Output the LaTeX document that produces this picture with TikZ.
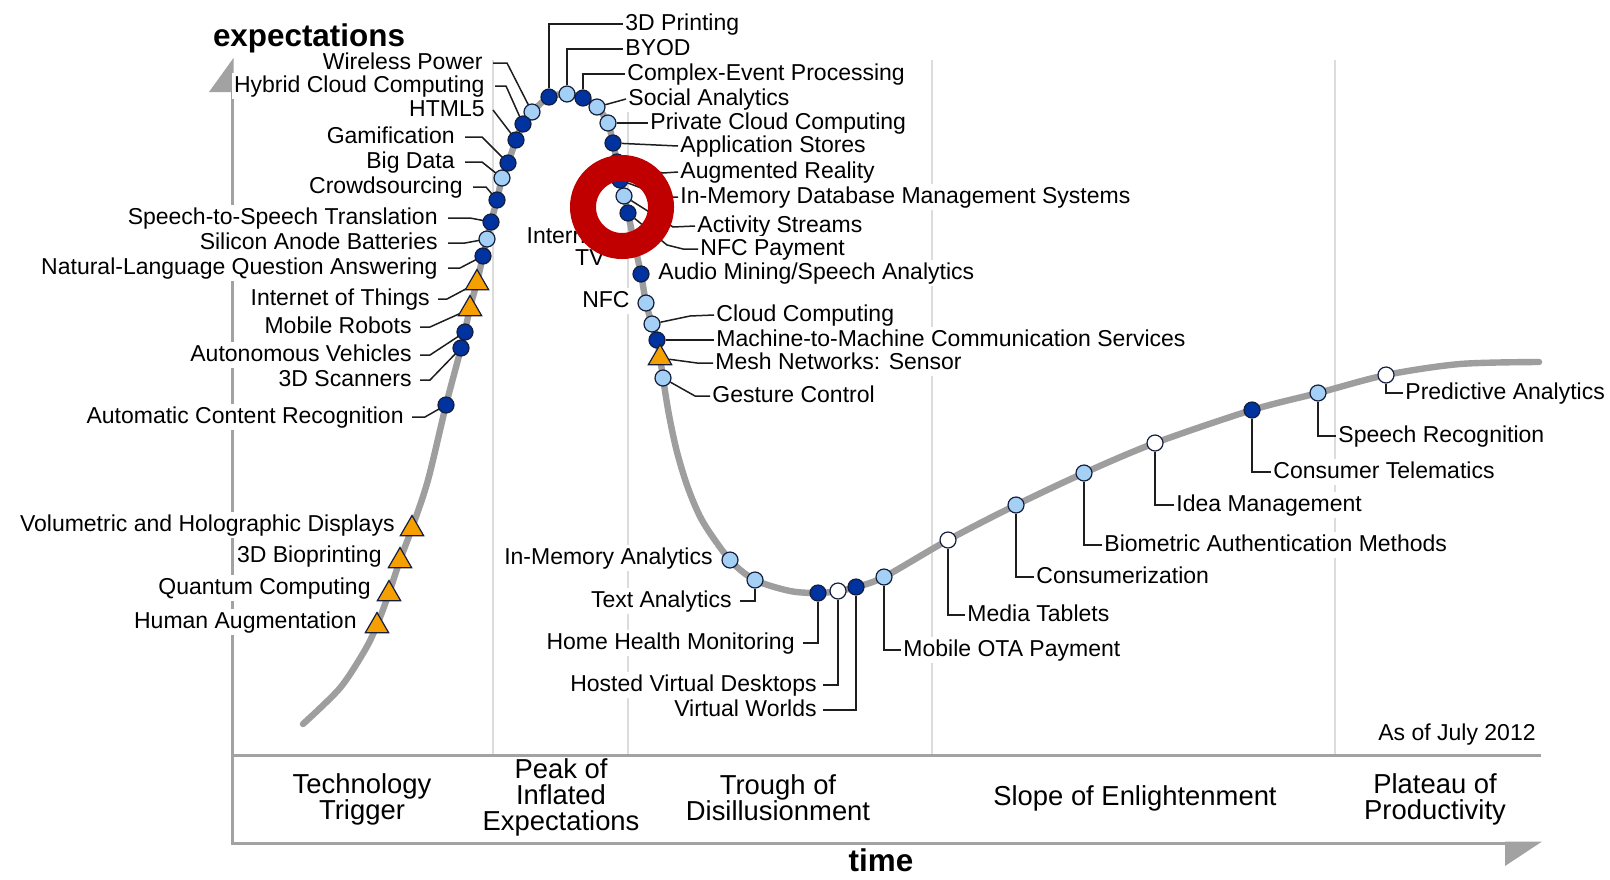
\documentclass[tikz,border=0pt]{standalone}
\usepackage{fontspec}
\setmainfont{Liberation Sans}
\usetikzlibrary{shapes.geometric}
\definecolor{axisgray}{RGB}{162,162,162}
\definecolor{divgray}{RGB}{220,220,220}
\definecolor{curvegray}{RGB}{158,158,158}
\definecolor{darkdot}{RGB}{0,50,160}
\definecolor{lightdot}{RGB}{165,208,245}
\definecolor{dotline}{RGB}{20,30,60}
\definecolor{orangetri}{RGB}{245,160,0}
\definecolor{ringred}{RGB}{192,0,0}
\definecolor{leadline}{RGB}{30,30,30}
\begin{document}
\begin{tikzpicture}[x=0.5pt,y=-0.5pt,
  lbl/.style={inner sep=1pt, fill=white, font=\fontsize{11.5}{13}\selectfont, text height=8.3pt, text depth=2.3pt},
  lblr/.style={lbl, anchor=east},
  lbll/.style={lbl, anchor=west},
  phase/.style={align=center, font=\fontsize{13.7}{13}\selectfont, inner sep=0pt},
  axtitle/.style={font=\bfseries\fontsize{15.7}{16}\selectfont, inner sep=0pt},
  dotbase/.style={circle, draw=dotline, line width=0.6pt, minimum size=8pt, inner sep=0pt},
  ddot/.style={dotbase, fill=darkdot},
  ldot/.style={dotbase, fill=lightdot},
  wdot/.style={dotbase, fill=white},
  tri/.style={regular polygon, regular polygon sides=3, draw=dotline, line width=0.6pt, fill=orangetri, minimum size=13.5pt, inner sep=0pt},
  lead/.style={draw=leadline, line width=0.75pt},
  divider/.style={draw=divgray, line width=1pt},
  axisline/.style={draw=axisgray, line width=1.5pt},
  hype/.style={draw=curvegray, line width=3.2pt, line cap=round}
]
\useasboundingbox (0,0) rectangle (1610,879);
\fill[white] (0,0) rectangle (1610,879);

% phase dividers
\foreach \xx in {493,628,932,1335} \draw[divider] (\xx,60) -- (\xx,755);

% axes
\draw[axisline] (232,92) -- (232,843) -- (1506,843);
\draw[axisline] (232,755) -- (1541,755);
\fill[axisgray] (209,92) -- (233.5,58) -- (233.5,92) -- cycle;
\fill[axisgray] (1505,841.5) -- (1542,841.5) -- (1505,866) -- cycle;

% hype curve
\draw[hype] plot[smooth, tension=0.5] coordinates {
 (303,724) (340,688) (365,650) (377,625) (389,593) (400,560) (412,528) (428,480)
 (446,405) (461,348) (470,308) (477,282) (483,256) (491,222) (497,200) (502,178)
 (508,163) (516,140) (523,124) (532,112) (549,97) (567,94) (583,98) (597,107)
 (608,123) (613,143) (617,162) (620,180) (624,196) (628,213) (634,242) (641,274)
 (646,303) (652,324) (657,340) (660,357) (663,378) (669,415) (677,452) (688,488)
 (703,522) (730,560) (755,580) (790,591) (818,593) (838,591) (856,587) (884,577)
 (948,540) (1016,505) (1084,473) (1155,443) (1252,410) (1318,393) (1386,375)
 (1460,364) (1539,362)};

% axis titles, phases
\node[axtitle] (ytitle) at (309,38) {expectations};
\node[axtitle] (xtitle) at (881,860) {time};
\node[phase] (p1) at (362,799) {Technology\\Trigger};
\node[phase] (p2) at (561,797) {Peak of\\Inflated\\Expectations};
\node[phase] (p3) at (778,798) {Trough of\\Disillusionment};
\node[phase] (p4) at (1135,798) {Slope of Enlightenment};
\node[phase] (p5) at (1435,799) {Plateau of\\Productivity};
\node[inner sep=1pt, anchor=east, font=\fontsize{11.5}{13}\selectfont] (asof) at (1538,735) {As of July 2012};

% left labels
\node[lblr] (l_wp) at (485,63) {Wireless Power};
\node[lblr] (l_hcc) at (487,86) {Hybrid Cloud Computing};
\node[lblr] (l_html) at (487,110) {HTML5};
\node[lblr] (l_gam) at (457,137) {Gamification};
\node[lblr] (l_bd) at (457,162) {Big Data};
\node[lblr] (l_crowd) at (465,187) {Crowdsourcing};
\node[lblr] (l_sts) at (440,218) {Speech-to-Speech Translation};
\node[lblr] (l_sab) at (440,243) {Silicon Anode Batteries};
\node[lblr] (l_nlqa) at (440,268) {Natural-Language Question Answering};
\node[lblr] (l_iot) at (432,299) {Internet of Things};
\node[lblr] (l_mr) at (414,327) {Mobile Robots};
\node[lblr] (l_av) at (414,355) {Autonomous Vehicles};
\node[lblr] (l_3ds) at (414,380) {3D Scanners};
\node[lblr] (l_acr) at (406,417) {Automatic Content Recognition};
\node[lblr] (l_vhd) at (397,525) {Volumetric and Holographic Displays};
\node[lblr] (l_3db) at (384,556) {3D Bioprinting};
\node[lblr] (l_qc) at (373,588) {Quantum Computing};
\node[lblr] (l_ha) at (359,622) {Human Augmentation};

% right / other labels
\node[lbll] (r_3dp) at (623,24) {3D Printing};
\node[lbll] (r_byod) at (623,49) {BYOD};
\node[lbll] (r_cep) at (625,74) {Complex-Event Processing};
\node[lbll] (r_sa) at (626,99) {Social Analytics};
\node[lbll] (r_pcc) at (648,123) {Private Cloud Computing};
\node[lbll] (r_as) at (678,146) {Application Stores};
\node[lbll] (r_ar) at (678,172) {Augmented Reality};
\node[lbll] (r_imdb) at (678,197) {In-Memory Database Management Systems};
\node[lbll] (r_acts) at (695,226) {Activity Streams};
\node[lbll] (r_nfcp) at (698,249) {NFC Payment};
\node[inner sep=1pt, fill=white, align=right, anchor=east, font=\fontsize{11.5}{11}\selectfont] (l_itv) at (607,247) {Internet\\TV};
\node[lbll] (r_am) at (656,273) {Audio Mining/Speech Analytics};
\node[lblr] (l_nfc) at (632,301) {NFC};
\node[lbll] (r_cc) at (714,315) {Cloud Computing};
\node[lbll] (r_m2m) at (714,340) {Machine-to-Machine Communication Services};
\node[lbll] (r_mesh) at (713,363) {Mesh Networks: Sensor};
\node[lbll] (r_gc) at (710,396) {Gesture Control};
\node[lblr] (l_ima) at (715,558) {In-Memory Analytics};
\node[lblr] (l_ta) at (734,601) {Text Analytics};
\node[lblr] (l_hhm) at (797,643) {Home Health Monitoring};
\node[lblr] (l_hvd) at (819,685) {Hosted Virtual Desktops};
\node[lblr] (l_vw) at (819,710) {Virtual Worlds};
\node[lbll] (r_ota) at (901,650) {Mobile OTA Payment};
\node[lbll] (r_mt) at (965,615) {Media Tablets};
\node[lbll] (r_cons) at (1034,577) {Consumerization};
\node[lbll] (r_bio) at (1102,545) {Biometric Authentication Methods};
\node[lbll] (r_idea) at (1174,505) {Idea Management};
\node[lbll] (r_ct) at (1271,472) {Consumer Telematics};
\node[lbll] (r_sr) at (1336,436) {Speech Recognition};
\node[lbll] (r_pa) at (1403,393) {Predictive Analytics};

% dot positions (coordinates first so leaders can end there)
\coordinate (c_wp) at (532,112);
\coordinate (c_hcc) at (523,124);
\coordinate (c_html) at (516,140);
\coordinate (c_gam) at (508,163);
\coordinate (c_bd) at (502,178);
\coordinate (c_crowd) at (497,200);
\coordinate (c_sts) at (491,222);
\coordinate (c_sab) at (487,239);
\coordinate (c_nlqa) at (483,256);
\coordinate (c_iot) at (477,283);
\coordinate (c_mr) at (470,309);
\coordinate (c_av) at (465,332);
\coordinate (c_3ds) at (461,348);
\coordinate (c_acr) at (446,405);

% leaders (left)
\draw[lead] ([xshift=4pt]l_wp.east) -- (507,63) -- (c_wp);
\draw[lead] ([xshift=4pt]l_hcc.east) -- (506,86) -- (c_hcc);
\draw[lead] ([xshift=3pt]l_html.east) -- (c_html);
\draw[lead] ([xshift=4pt]l_gam.east) -- (482,137) -- (c_gam);
\draw[lead] ([xshift=4pt]l_bd.east) -- (482,162) -- (c_bd);
\draw[lead] ([xshift=4pt]l_crowd.east) -- (486,187) -- (c_crowd);
\draw[lead] ([xshift=4pt]l_sts.east) -- (470,218) -- (c_sts);
\draw[lead] ([xshift=4pt]l_sab.east) -- (465,243) -- (c_sab);
\draw[lead] ([xshift=4pt]l_nlqa.east) -- (460,268) -- (c_nlqa);
\draw[lead] ([xshift=3pt]l_iot.east) -- (447,299) -- (c_iot);
\draw[lead] ([xshift=3pt]l_mr.east) -- (430,327) -- (c_mr);
\draw[lead] ([xshift=3pt]l_av.east) -- (430,355) -- (c_av);
\draw[lead] ([xshift=3pt]l_3ds.east) -- (430,380) -- (c_3ds);
\draw[lead] ([xshift=3pt]l_acr.east) -- (425,417) -- (c_acr);

% dots (left)
\node[ldot] (d_wp) at (c_wp) {};
\node[ddot] (d_hcc) at (c_hcc) {};
\node[ddot] (d_html) at (c_html) {};
\node[ddot] (d_gam) at (c_gam) {};
\node[ldot] (d_bd) at (c_bd) {};
\node[ddot] (d_crowd) at (c_crowd) {};
\node[ddot] (d_sts) at (c_sts) {};
\node[ldot] (d_sab) at (c_sab) {};
\node[ddot] (d_nlqa) at (c_nlqa) {};
\node[tri] (t_iot) at (c_iot) {};
\node[tri] (t_mr) at (c_mr) {};
\node[ddot] (d_av) at (c_av) {};
\node[ddot] (d_3ds) at (c_3ds) {};
\node[ddot] (d_acr) at (c_acr) {};
\node[tri] (t_vhd) at (412,529) {};
\node[tri] (t_3db) at (400,561) {};
\node[tri] (t_qc) at (389,594) {};
\node[tri] (t_ha) at (377,626) {};

% dots (peak and slide)
\node[ddot] (d_3dp) at (549,97) {};
\node[ldot] (d_byod) at (567,94) {};
\node[ddot] (d_cep) at (583,98) {};
\node[ldot] (d_sa) at (597,107) {};
\node[ldot] (d_pcc) at (608,123) {};
\node[ddot] (d_as) at (613,143) {};
\node[ddot] (d_ar) at (617,162) {};
\node[ddot] (d_imdb) at (620,180) {};
\node[ldot] (d_acts) at (624,196) {};
\node[ddot] (d_nfcp) at (628,213) {};
\node[ldot] (d_itv) at (634,242) {};
\node[ddot] (d_am) at (641,274) {};
\node[ldot] (d_nfc) at (646,303) {};
\node[ldot] (d_cc) at (652,324) {};
\node[ddot] (d_m2m) at (657,340) {};
\node[tri] (t_mesh) at (660,358) {};
\node[ldot] (d_gc) at (663,378) {};
\node[ldot] (d_ima) at (730,560) {};
\node[ldot] (d_ta) at (755,580) {};
\node[ddot] (d_hhm) at (818,593) {};
\node[wdot] (d_hvd) at (838,591) {};
\node[ddot] (d_vw) at (856,587) {};
\node[ldot] (d_ota) at (884,577) {};
\node[wdot] (d_mt) at (948,540) {};
\node[ldot] (d_cons) at (1016,505) {};
\node[ldot] (d_bio) at (1084,473) {};
\node[wdot] (d_idea) at (1155,443) {};
\node[ddot] (d_ct) at (1252,410) {};
\node[ldot] (d_sr) at (1318,393) {};
\node[wdot] (d_pa) at (1386,375) {};

% leaders (right side)
\draw[lead] (d_3dp) |- (r_3dp.west);
\draw[lead] (d_byod) |- (r_byod.west);
\draw[lead] (d_cep) |- (r_cep.west);
\draw[lead] (d_sa) -- (r_sa.west);
\draw[lead] (d_pcc) -- (r_pcc.west);
\draw[lead] (d_as) -- (r_as.west);
\draw[lead] (d_ar) -- (663,173) -- (r_ar.west);
\draw[lead] (d_imdb) -- (665,197) -- (r_imdb.west);
\draw[lead] (d_acts) -- (673,227) -- (r_acts.west);
\draw[lead] (d_nfcp) -- (667,245) -- (683,249) -- (r_nfcp.west);
\draw[lead] (d_cc) -- (690,316) -- (r_cc.west);
\draw[lead] (d_m2m) -- (r_m2m.west);
\draw[lead] (t_mesh) -- (697,363) -- (r_mesh.west);
\draw[lead] (d_gc) -- (695,396) -- (r_gc.west);
\draw[lead] (d_ta) |- ([xshift=3pt]l_ta.east);
\draw[lead] (d_hhm) |- ([xshift=3pt]l_hhm.east);
\draw[lead] (d_hvd) |- ([xshift=2pt]l_hvd.east);
\draw[lead] (d_vw) |- ([xshift=2pt]l_vw.east);
\draw[lead] (d_ota) |- (r_ota.west);
\draw[lead] (d_mt) |- (r_mt.west);
\draw[lead] (d_cons) |- (r_cons.west);
\draw[lead] (d_bio) |- (r_bio.west);
\draw[lead] (d_idea) |- (r_idea.west);
\draw[lead] (d_ct) |- (r_ct.west);
\draw[lead] (d_sr) |- (r_sr.west);
\draw[lead] (d_pa) |- (r_pa.west);

% red highlight ring
\node[circle, draw=ringred, line width=13pt, minimum size=39pt, inner sep=0pt] (ring) at (622,207) {};
\end{tikzpicture}
\end{document}
